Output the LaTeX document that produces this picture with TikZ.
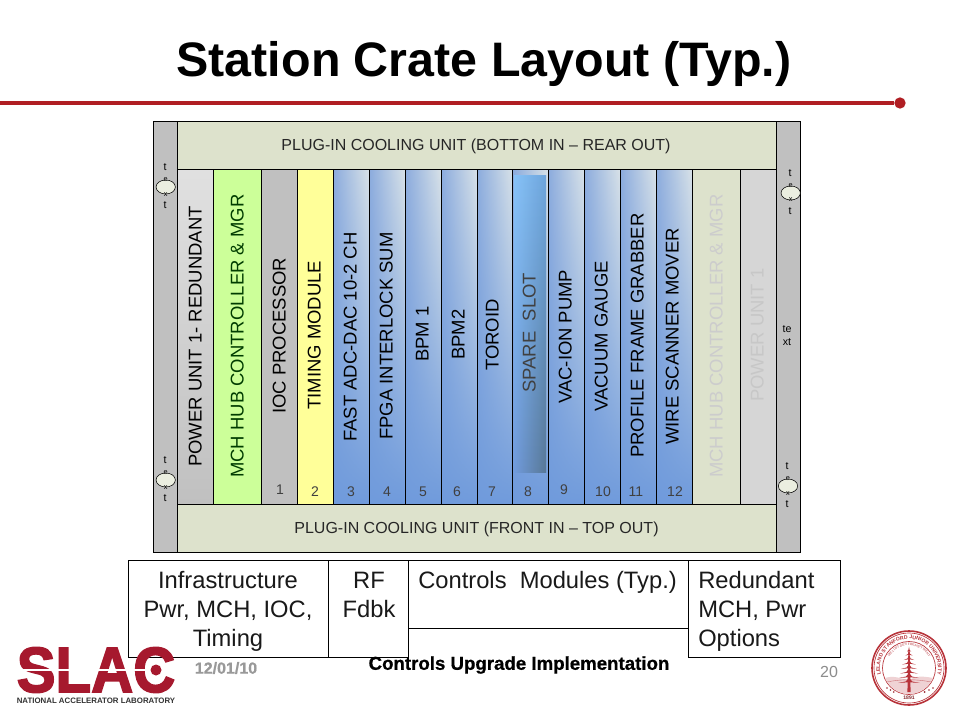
\documentclass[tikz,border=0pt]{standalone}
\usepackage{fontspec}
\setmainfont{Liberation Sans}
\newfontfamily\slacf[BoldFeatures={FakeBold=2.5}]{Liberation Sans}
\newfontfamily\dblf[BoldFeatures={FakeBold=0.7}]{Liberation Sans}
\usetikzlibrary{fadings,decorations.text,shapes.geometric}
\definecolor{slacred}{HTML}{A6192E}
\definecolor{rulered}{HTML}{B01E23}
\definecolor{barg}{HTML}{C0C0C0}
\definecolor{cool}{HTML}{DDE2CC}
\definecolor{sealred}{HTML}{B8333A}
\definecolor{mchgreen}{RGB}{204,255,153}
\definecolor{timeyel}{RGB}{255,255,153}
\definecolor{bluetl}{RGB}{140,172,222}
\definecolor{bluetr}{RGB}{216,226,232}
\definecolor{bluebot}{RGB}{112,155,220}
\definecolor{sparel}{RGB}{135,195,248}
\definecolor{sparer}{RGB}{110,165,220}
\definecolor{sparebot}{RGB}{88,120,150}
\definecolor{darkgreen}{RGB}{0,60,0}
\tikzset{
  px/.style={x=0.75pt,y=-0.75pt},
  frameline/.style={draw=black,line width=0.75pt},
  slotlbl/.style={rotate=90,anchor=base west,inner sep=0pt,font=\fontsize{13.85}{14}\selectfont},
  numlbl/.style={inner sep=0pt,text=black!75,font=\fontsize{10.5}{10.5}\selectfont},
  cooltxt/.style={inner sep=0pt,anchor=base,text=black!85,font=\fontsize{12}{12}\selectfont},
  tinyt/.style={inner sep=0pt,font=\fontsize{8}{8}\selectfont},
  tinyo/.style={inner sep=0pt,font=\fontsize{5.5}{5.5}\selectfont},
  legtxt/.style={inner sep=0pt,text=black!90,font=\fontsize{17.8}{21.75}\selectfont},
}
\begin{document}
\begin{tikzpicture}[px]
\useasboundingbox (0,0) rectangle (960,720);
\fill[white] (0,0) rectangle (960,720);
% title
\node[inner sep=0pt,anchor=base,font=\fontsize{36.3}{36}\bfseries\selectfont] (title) at (484,77) {Station Crate Layout (Typ.)};
\coordinate (ruleL) at (0,103);
\node[circle,fill=rulered,minimum size=8.5pt,inner sep=0pt] (ruledot) at (900,103) {};
\draw[rulered,line width=2.4pt] (ruleL) -- (ruledot);
% crate body
\fill[barg] (153,122) rectangle (177.5,552);
\fill[barg] (776,122) rectangle (800.5,552);
\fill[cool] (177.5,122) rectangle (776,169.5);
\fill[cool] (177.5,504) rectangle (776,552);
% left power unit
\shade[top color=black!12,bottom color=barg] (177.5,169.5) rectangle (213.5,504);
\fill[mchgreen] (213.5,169.5) rectangle (261,504);
\fill[barg] (261,169.5) rectangle (297,504);
\fill[timeyel] (297,169.5) rectangle (333,504);
% blue slots
\foreach \a/\b in {333/369,369/405,405/441,441/477,477/512.7,512.7/548,548/584,584/620,620/656,656/692}{
  \shade[left color=bluetl,right color=bluetr] (\a,169.5) rectangle (\b,504);
  \fill[bluebot,path fading=north] (\a,169.5) rectangle (\b,504);
}
% spare slot inner
\shade[left color=sparel,right color=sparer] (514,176) rectangle (546,472);
\shade[left color=bluebot,right color=sparebot,path fading=north] (514,176) rectangle (546,472);
% right slots
\fill[cool] (692,169.5) rectangle (740,504);
\fill[black!16] (740,169.5) rectangle (776,504);
% crate lines
\draw[frameline] (153,122) rectangle (800.5,552);
\draw[frameline] (177.5,122) -- (177.5,552) (776,122) -- (776,552);
\draw[frameline] (177.5,169.5) -- (776,169.5) (177.5,504) -- (776,504);
\foreach \a in {213.5,261,297,333,369,405,441,477,512.7,548,584,620,656,692,740}{
  \draw[line width=0.6pt] (\a,169.5) -- (\a,504);
}
% cooling texts
\node[cooltxt] (cooltop) at (476,150.5) {PLUG-IN COOLING UNIT (BOTTOM IN – REAR OUT)};
\node[cooltxt] (coolbot) at (476.5,533) {PLUG-IN COOLING UNIT (FRONT IN – TOP OUT)};
% slot labels (x is the text baseline)
\node[slotlbl] (l1) at (201.5,467) {POWER UNIT 1- REDUNDANT};
\node[slotlbl,text=darkgreen] (l2) at (243.5,478) {MCH HUB CONTROLLER \& MGR};
\node[slotlbl] (l3) at (285.5,414) {IOC PROCESSOR};
\node[slotlbl] (l4) at (320.5,410) {TIMING MODULE};
\node[slotlbl] (l5) at (356.5,442) {FAST ADC-DAC 10-2 CH};
\node[slotlbl] (l6) at (392.5,440) {FPGA INTERLOCK SUM};
\node[slotlbl] (l7) at (428.5,362) {BPM 1};
\node[slotlbl] (l8) at (464.5,360) {BPM2};
\node[slotlbl] (l9) at (498.5,371) {TOROID};
\node[slotlbl,text=black!75] (l10) at (535.5,393) {SPARE\ \ SLOT};
\node[slotlbl] (l11) at (571.5,404) {VAC-ION PUMP};
\node[slotlbl] (l12) at (607.5,412) {VACUUM GAUGE};
\node[slotlbl] (l13) at (643.5,458) {PROFILE FRAME GRABBER};
\node[slotlbl] (l14) at (678.5,445) {WIRE SCANNER MOVER};
\node[slotlbl,text=black!20] (l15) at (722.5,478) {MCH HUB CONTROLLER \& MGR};
\node[slotlbl,text=black!22] (l16) at (763.5,402) {POWER UNIT 1};
% numbers
\foreach \n/\x/\y in {1/280/490,2/315/492,3/351/492,4/387/492,5/423/492,6/457/492,7/492/492,8/528/492,9/564/490,10/603/492,11/636/492,12/675/492}{
  \node[numlbl] (n\n) at (\x,\y) {\n};
}
% connector glyphs
\foreach \id/\x/\y in {a/165.7/187,b/165.7/480,c/790.7/193,d/788/486}{
  \node[draw=black,fill=cool!60!white,ellipse,minimum width=14.5pt,minimum height=10.5pt,inner sep=0pt,line width=0.4pt] (e\id) at (\x,\y) {};
}
\foreach \id/\x/\y/\s in {a1/165/167/t,a4/165/205/t,b1/165/460/t,b4/165/498/t,
  c1/790/173/t,c4/790/211/t,d1/787/466/t,d4/787/504/t}{
  \node[tinyt] (t\id) at (\x,\y) {\s};
}
\foreach \id/\x/\y/\s in {a2/165.7/180/e,a3/165.7/195/x,b2/165.7/473/e,b3/165.7/488/x,
  c2/790.7/186/e,c3/790.7/200/x,d2/788/479/e,d3/788/494/x}{
  \node[tinyo] (t\id) at (\x,\y) {\s};
}
\node[tinyt] (te1) at (787,329) {te};
\node[tinyt] (te2) at (787,342) {xt};
% legend
\draw[frameline,fill=white] (128,560) rectangle (328,657);
\draw[frameline,fill=white] (328,560) rectangle (408,657);
\draw[frameline,fill=white] (408,560) rectangle (688,628);
\draw[frameline,fill=white] (688,560) rectangle (840,657);
\node[legtxt,align=center] (g1) at (228,611) {Infrastructure\\Pwr, MCH, IOC,\\Timing};
\node[legtxt,align=center,anchor=north] (g2) at (369,572) {RF\\Fdbk};
\node[legtxt,anchor=base west] (g3) at (418,588) {Controls\ \ Modules (Typ.)};
\node[legtxt,align=left,anchor=west] (g4) at (698,611) {Redundant\\MCH, Pwr\\Options};
% footer
\node[inner sep=0pt,text=black!40,font=\dblf\fontsize{12}{12}\bfseries\selectfont] (date) at (226,668) {12/01/10};
\node[inner sep=0pt,font=\dblf\fontsize{14}{14}\bfseries\selectfont] (foot) at (519,665) {Controls Upgrade Implementation};
\node[inner sep=0pt,text=black!45,font=\fontsize{12}{12}\selectfont] (page) at (829,672) {20};
% SLAC logo
\node[inner sep=0pt,text=slacred,font=\slacf\fontsize{48}{48}\bfseries\selectfont,xscale=0.91] (slac) at (96,670) {SLAC};
\fill[white] (14,668.5) rectangle (150,671);
\fill[slacred] (156,670) circle (5.5);
\node[inner sep=0pt,text=black!80,font=\fontsize{5.9}{6}\bfseries\selectfont] (nal) at (96,701) {NATIONAL ACCELERATOR LABORATORY};
% Stanford seal
\begin{scope}[shift={(909,668)},x=0.75pt,y=0.75pt]
  \draw[sealred,line width=1.2pt,fill=white] (0,0) circle (37);
  \draw[sealred,line width=0.5pt] (0,0) circle (35);
  \draw[sealred,line width=0.5pt] (0,0) circle (26.5);
  \path[decorate,decoration={text along path,text align=center,text color=sealred,
     text={|\fontsize{3.9}{4}\bfseries\selectfont|LELAND STANFORD JUNIOR UNIVERSITY}}]
     (205:29) arc[start angle=205,end angle=-25,radius=29];
  \path[decorate,decoration={text along path,text align=center,text color=sealred,
     text={|\fontsize{2.4}{3}\selectfont|DIE LUFT DER FREIHEIT WEHT}}]
     (190:22.5) arc[start angle=190,end angle=-10,radius=22.5];
  \fill[sealred!22] (-24,-10) .. controls (-12,-6) and (-4,-14) .. (2,-11) .. controls (10,-7) and (18,-9) .. (24,-10) arc[start angle=-22.6,end angle=-157.4,radius=26] -- cycle;
  \draw[sealred!70,line width=0.3pt] (-22,-14) .. controls (-8,-11) and (8,-11) .. (22,-14);
  \fill[sealred] (-1.6,-24) -- (-0.6,18) -- (0.6,18) -- (1.6,-24) -- cycle;
  \foreach \yy/\w in {-15/11,-10/10,-5.5/9,-1/8,3.5/6.8,8/5.2,12.5/3.6,16.5/2}{
     \fill[sealred] (-\w,\yy) -- (-\w*0.3,\yy+1.5) -- (0,\yy+5) -- (\w*0.3,\yy+1.5) -- (\w,\yy) -- (0,\yy+0.8) -- cycle;
  }
  \foreach \xx/\yy in {-22/-20,-18.6/-22,-15.3/-24,15.6/-24,20/-22,24/-20}{ \fill[sealred!85!black] (\xx,\yy) circle (0.9); }
  \node[inner sep=0pt,text=sealred!70!black,font=\fontsize{3.8}{4}\bfseries\selectfont] (year) at (0,-30) {1891};
\end{scope}
\end{tikzpicture}
\end{document}
